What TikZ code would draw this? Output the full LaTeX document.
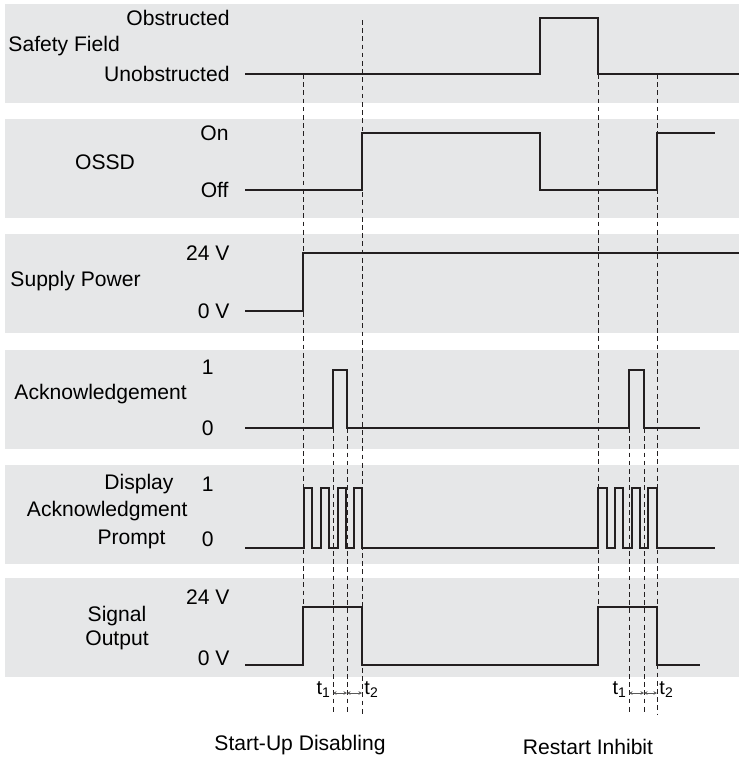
\documentclass[tikz,border=0pt]{standalone}
\usepackage{fontspec}
\setmainfont{Liberation Sans}
\usepackage{xcolor}
\usepackage{tikz}
\usetikzlibrary{arrows.meta}

\definecolor{panelgray}{RGB}{230,231,232}
\definecolor{sigblack}{RGB}{35,31,32}

\tikzset{
  panel/.style={fill=panelgray, draw=none},
  signal/.style={sigblack, line width=1.7pt, line join=miter},
  guide/.style={sigblack, line width=0.6pt, dash pattern=on 4pt off 3pt},
  lbl/.style={font=\fontsize{18}{21}\selectfont, inner sep=0pt},
  tlbl/.style={font=\fontsize{17}{20}\selectfont, inner sep=0pt},
  span/.style={{Stealth[length=3pt,width=3pt]}-{Stealth[length=3pt,width=3pt]}, gray!70!black, line width=0.5pt}
}

\begin{document}
\begin{tikzpicture}[x=0.03cm, y=-0.03cm, >=Stealth, thick]
    \useasboundingbox (0,0) rectangle (739,782);
    % Panels
    \foreach \top in {4,119,234,350,465,578}
        \fill [panel] (5,\top) rectangle (739,\top+99);

    % Safety field
    \node [lbl, anchor=east] (obst) at (230,18) {Obstructed};
    \node [lbl, anchor=west] (field) at (8,46) {Safety Field};
    \node [lbl, anchor=east] (unobst) at (230,74) {Unobstructed};
    \draw [signal] (245,74) -- (540,74) -- (540,18) -- (598,18) -- (598,74) -- (739,74);

    % OSSD
    \node [lbl, anchor=east] (on) at (229,133) {On};
    \node [lbl] (ossd) at (105,162) {OSSD};
    \node [lbl, anchor=east] (off) at (229,190) {Off};
    \draw [signal] (245,190) -- (362,190) -- (362,133) -- (540,133) -- (540,190) -- (657,190) -- (657,133) -- (715,133);

    % Supply power
    \node [lbl, anchor=east] (supHi) at (230,253) {24 V};
    \node [lbl, anchor=west] (supply) at (10,281) {Supply Power};
    \node [lbl, anchor=east] (supLo) at (230,311) {0 V};
    \draw [signal] (245,311) -- (303,311) -- (303,253) -- (739,253);

    % Acknowledgement
    \node [lbl, anchor=east] (ackHi) at (214,367) {1};
    \node [lbl, anchor=west] (ack) at (14,394) {Acknowledgement};
    \node [lbl, anchor=east] (ackLo) at (214,428) {0};
    \draw [signal] (245,428) -- (333,428) -- (333,370) -- (347,370) -- (347,428) -- (629,428) -- (629,370) -- (644,370) -- (644,428) -- (700,428);

    % Display acknowledgment prompt
    \node [lbl, anchor=east] (dispA) at (174,484) {Display};
    \node [lbl, anchor=east] (dispB) at (188,511) {Acknowledgment};
    \node [lbl, anchor=east] (dispC) at (166,539) {Prompt};
    \node [lbl, anchor=east] (dispHi) at (214,484) {1};
    \node [lbl, anchor=east] (dispLo) at (214,539) {0};
    \draw [signal] (245,548) -- (304,548)
        -- (304,488) -- (312,488) -- (312,548) -- (321,548) -- (321,488) -- (329,488) -- (329,548)
        -- (338,548) -- (338,488) -- (346,488) -- (346,548) -- (354,548) -- (354,488) -- (362,488) -- (362,548)
        -- (598,548)
        -- (598,488) -- (607,488) -- (607,548) -- (615,548) -- (615,488) -- (623,488) -- (623,548)
        -- (632,548) -- (632,488) -- (640,488) -- (640,548) -- (648,548) -- (648,488) -- (657,488) -- (657,548)
        -- (715,548);

    % Signal output
    \node [lbl, anchor=east] (outHi) at (230,597) {24 V};
    \node [lbl] (outA) at (117,616) {Signal};
    \node [lbl] (outB) at (117,640) {Output};
    \node [lbl, anchor=east] (outLo) at (230,658) {0 V};
    \draw [signal] (245,665) -- (303,665) -- (303,607) -- (362,607) -- (362,665) -- (598,665) -- (598,607) -- (657,607) -- (657,665) -- (700,665);

    % Guide lines
    \draw [guide] (303,74) -- (303,607);
    \draw [guide] (362,20) -- (362,715);
    \draw [guide] (333,428) -- (333,715);
    \draw [guide] (347,428) -- (347,715);
    \draw [guide] (598,74) -- (598,607);
    \draw [guide] (657,74) -- (657,715);
    \draw [guide] (629,428) -- (629,715);
    \draw [guide] (644,428) -- (644,715);

    % Timing marks
    \node [tlbl, anchor=east] (tA1) at (331,690) {t\textsubscript{1}};
    \node [tlbl, anchor=west] (tA2) at (364,690) {t\textsubscript{2}};
    \draw [span] (333,693) -- (347,693);
    \draw [span] (347,693) -- (362,693);
    \node [tlbl, anchor=east] (tB1) at (627,690) {t\textsubscript{1}};
    \node [tlbl, anchor=west] (tB2) at (659,690) {t\textsubscript{2}};
    \draw [span] (629,693) -- (644,693);
    \draw [span] (644,693) -- (657,693);

    % Phases
    \node [lbl] (startup) at (300,745) {Start-Up Disabling};
    \node [lbl] (restart) at (588,747) {Restart Inhibit};
\end{tikzpicture}
\end{document}
